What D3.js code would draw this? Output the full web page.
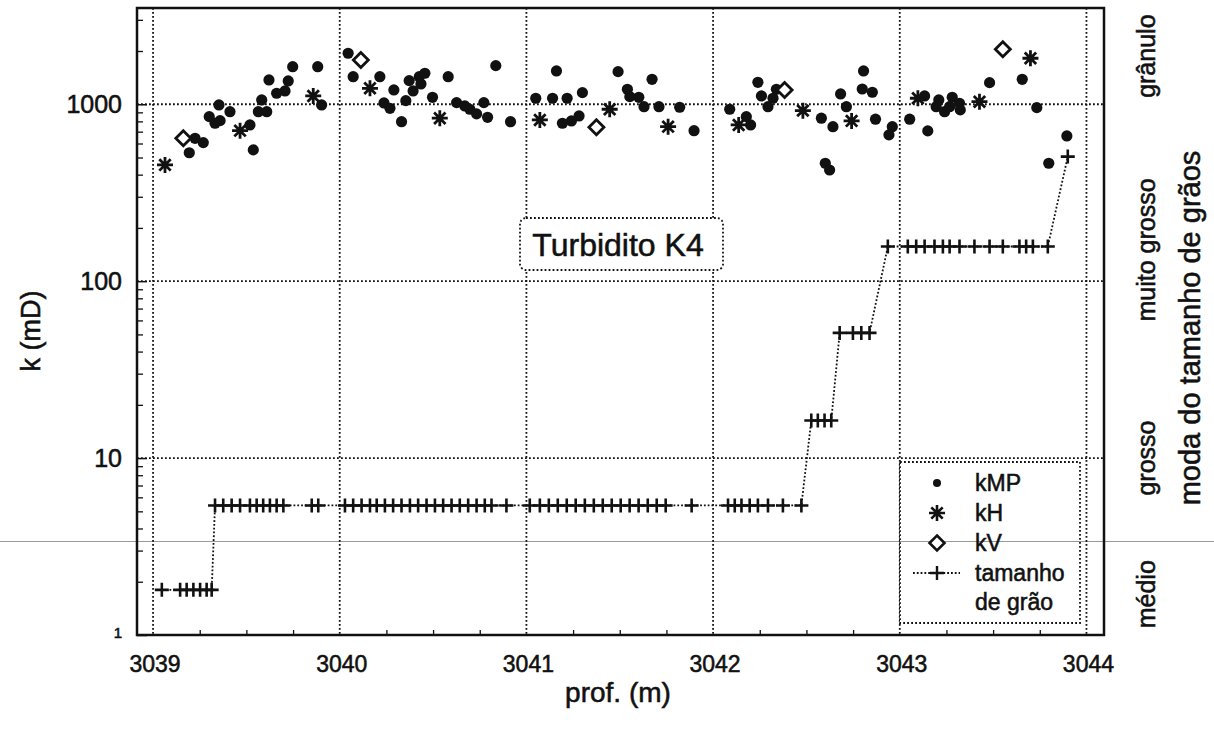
<!DOCTYPE html>
<html><head><meta charset="utf-8">
<script src="https://cdn.jsdelivr.net/npm/d3@7"></script>
<style>
body{margin:0;background:#fff}
text{font-family:"Liberation Sans",Arial,Helvetica,sans-serif;fill:#111;stroke:#111;stroke-width:0.55px}
</style>
</head><body>
<svg id="c" width="1214" height="729"></svg>
<script>
// ---------- data ----------
const kmpDepth = [3039.194,3039.225,3039.269,3039.301,3039.332,3039.353,3039.359,3039.412,3039.519,3039.537,
3039.564,3039.582,3039.609,3039.621,3039.662,3039.707,3039.724,3039.748,3039.882,3039.903,
3040.045,3040.072,3040.215,3040.237,3040.269,3040.290,3040.331,3040.354,3040.372,3040.393,
3040.426,3040.456,3040.435,3040.497,3040.581,3040.626,3040.670,3040.697,3040.733,3040.772,
3040.792,3040.836,3040.915,3041.050,3041.161,3041.140,3041.218,3041.300,3041.193,3041.241,
3041.282,3041.491,3041.541,3041.554,3041.602,3041.630,3041.673,3041.710,3041.821,3041.898,
3042.089,3042.178,3042.201,3042.240,3042.259,3042.294,3042.321,3042.339,3042.580,3042.642,
3042.601,3042.624,3042.683,3042.714,3042.806,3042.799,3042.853,3042.870,3042.960,3042.942,
3043.053,3043.150,3043.133,3043.209,3043.240,3043.267,3043.281,3043.324,3043.320,3043.195,
3043.481,3043.656,3043.734,3043.895,3043.798];
const kmpK = [532,642,607,851,781,991,808,908,764,552,
908,1058,908,1372,1154,1189,1354,1631,1631,991,
1942,1432,1432,1017,949,1205,797,1048,1360,1189,
1432,1497,1302,1095,1432,1021,978,937,882,1021,
844,1653,797,1081,1543,1081,1081,1163,781,805,
859,1529,1215,1104,1095,969,1384,969,962,709,
937,851,764,1331,1114,969,1081,1215,834,747,
464,425,1144,969,1543,1220,1169,823,747,671,
823,707,1114,1058,908,969,1095,929,1013,969,
1325,1384,957,662,464];

const khDepth = [3039.064,3039.466,3039.858,3040.162,3040.536,3041.072,3041.446,3041.759,3042.137,3042.481,3042.742,3043.097,3043.427,3043.700];
const khK     = [454,709,1114,1231,834,815,937,747,764,920,805,1081,1034,1820];

const kvDepth = [3039.162,3040.113,3041.375,3042.383,3043.552];
const kvK     = [642,1780,741,1205,2046];

const grainDepth = [3039.047,3039.145,3039.180,3039.216,3039.252,3039.287,3039.314,
3039.332,3039.376,3039.421,3039.466,3039.519,3039.555,3039.590,3039.626,3039.662,3039.698,
3039.850,3039.885,
3040.028,3040.072,3040.117,3040.162,3040.198,3040.242,3040.286,3040.331,3040.376,3040.420,
3040.465,3040.510,3040.554,3040.599,3040.643,3040.688,3040.733,3040.777,3040.813,3040.893,
3041.018,3041.072,3041.120,3041.168,3041.216,3041.264,3041.313,3041.361,3041.409,3041.457,
3041.505,3041.553,3041.601,3041.650,3041.698,3041.746,3041.885,
3042.080,3042.116,3042.152,3042.196,3042.240,3042.294,3042.374,3042.473,
3042.526,3042.561,3042.597,3042.633,
3042.678,3042.749,3042.794,3042.838,
3042.936,3043.043,3043.088,3043.133,3043.186,3043.231,3043.267,3043.320,3043.400,3043.481,
3043.552,3043.641,3043.677,3043.713,3043.793,
3043.900];
const grainSize = [1.8,1.8,1.8,1.8,1.8,1.8,1.8,
5.4,5.4,5.4,5.4,5.4,5.4,5.4,5.4,5.4,5.4,
5.4,5.4,
5.4,5.4,5.4,5.4,5.4,5.4,5.4,5.4,5.4,5.4,
5.4,5.4,5.4,5.4,5.4,5.4,5.4,5.4,5.4,5.4,
5.4,5.4,5.4,5.4,5.4,5.4,5.4,5.4,5.4,5.4,
5.4,5.4,5.4,5.4,5.4,5.4,5.4,
5.4,5.4,5.4,5.4,5.4,5.4,5.4,5.4,
16.3,16.3,16.3,16.3,
51,51,51,51,
157,157,157,157,157,157,157,157,157,157,
157,157,157,157,157,
506];

const xTicks = [3039,3040,3041,3042,3043,3044];
const xMinor = [3039.25,3039.5,3039.75,3040.25,3040.5,3040.75,3041.25,3041.5,3041.75,3042.25,3042.5,3042.75,3043.25,3043.5,3043.75];
const yTicks = [1,10,100,1000];
const yMinor = [2,3,4,5,6,7,8,9,20,30,40,50,60,70,80,90,200,300,400,500,600,700,800,900,2000,3000];
const classLabels = ["médio","grosso","muito grosso","grânulo"];
const classPos    = [1.7,10,150,1870];
const legendLabels = ["kMP","kH","kV","tamanho","de grão"];
const titleText = "Turbidito K4";

// ---------- layout ----------
const svg = d3.select("#c");
const L=137, R=1104, T=8, B=635;
const x = d3.scaleLinear().domain([3038.914,3044.094]).range([L,R]);
const y = d3.scaleLog().domain([1,3500]).range([B,T]);

const ink = "#111";
const dotted = "1.8,2.2";

// scan line artefact
svg.append("line").attr("x1",0).attr("x2",1214).attr("y1",541.5).attr("y2",541.5)
  .attr("stroke","#9a9a9a").attr("stroke-width",1);

// grid
const g = svg.append("g");
g.selectAll(".vg").data(xTicks).join("line")
  .attr("x1",d=>x(d)).attr("x2",d=>x(d)).attr("y1",T).attr("y2",B)
  .attr("stroke",ink).attr("stroke-width",1.8).attr("stroke-dasharray",dotted);
g.selectAll(".hg").data([10,100,1000]).join("line")
  .attr("x1",L).attr("x2",R).attr("y1",d=>y(d)).attr("y2",d=>y(d))
  .attr("stroke",ink).attr("stroke-width",1.8).attr("stroke-dasharray",dotted);

// axes with d3 axis generators (inner ticks)
const axB = d3.axisBottom(x).tickValues(xMinor).tickSize(-5).tickFormat("");
svg.append("g").attr("transform",`translate(0,${B})`).call(axB)
  .call(s=>s.select(".domain").remove()).selectAll("line").attr("stroke",ink).attr("stroke-width",1.3);
const axL = d3.axisLeft(y).tickValues(yMinor.filter(v=>v<3500)).tickSize(-6).tickFormat("");
svg.append("g").attr("transform",`translate(${L},0)`).call(axL)
  .call(s=>s.select(".domain").remove()).selectAll("line").attr("stroke",ink).attr("stroke-width",1.3);
const axLM = d3.axisLeft(y).tickValues(yTicks).tickSize(-10).tickFormat("");
svg.append("g").attr("transform",`translate(${L},0)`).call(axLM)
  .call(s=>s.select(".domain").remove()).selectAll("line").attr("stroke",ink).attr("stroke-width",1.5);

// frame
svg.append("rect").attr("x",L).attr("y",T).attr("width",R-L).attr("height",B-T)
  .attr("fill","none").attr("stroke",ink).attr("stroke-width",2.5);

// Turbidito box
const tb = svg.append("g");
tb.append("rect").attr("x",520).attr("y",218).attr("width",203).attr("height",52).attr("rx",6)
  .attr("fill","#fff").attr("stroke",ink).attr("stroke-width",1.8).attr("stroke-dasharray",dotted);
tb.append("text").attr("x",618).attr("y",256).attr("text-anchor","middle")
  .attr("font-size",32).text(titleText);

// grain size line + markers
const gpts = grainDepth.map((d,i)=>[x(d), y(grainSize[i])]);
svg.append("path").attr("d",d3.line()(gpts)).attr("fill","none")
  .attr("stroke",ink).attr("stroke-width",1.8).attr("stroke-dasharray","1.8,2");
const plus = "M-7,0H7M0,-7V7";
svg.append("g").selectAll("path").data(gpts).join("path")
  .attr("transform",d=>`translate(${d[0]},${d[1]})`)
  .attr("d",plus).attr("stroke",ink).attr("stroke-width",2.6).attr("fill","none");

// kMP dots
svg.append("g").selectAll("circle").data(kmpDepth).join("circle")
  .attr("cx",d=>x(d)).attr("cy",(d,i)=>y(kmpK[i])).attr("r",5.6).attr("fill",ink);

// kH asterisks
const star = "M-8,0H8M0,-8V8M-5.7,-5.7L5.7,5.7M-5.7,5.7L5.7,-5.7";
svg.append("g").selectAll("path").data(khDepth).join("path")
  .attr("transform",(d,i)=>`translate(${x(d)},${y(khK[i])})`)
  .attr("d",star).attr("stroke",ink).attr("stroke-width",2.8).attr("fill","none");

// kV diamonds
const diamond = "M0,-7.5L7.5,0L0,7.5L-7.5,0Z";
svg.append("g").selectAll("path").data(kvDepth).join("path")
  .attr("transform",(d,i)=>`translate(${x(d)},${y(kvK[i])})`)
  .attr("d",diamond).attr("stroke",ink).attr("stroke-width",2.8).attr("fill","#fff");

// legend
const lg = svg.append("g");
lg.append("rect").attr("x",900).attr("y",462).attr("width",180).attr("height",161)
  .attr("fill","#fff").attr("stroke",ink).attr("stroke-width",1.8).attr("stroke-dasharray",dotted);
lg.append("line").attr("x1",900).attr("x2",1080).attr("y1",541.5).attr("y2",541.5)
  .attr("stroke","#9a9a9a").attr("stroke-width",1);
const lx = 937, ly = [483,513,543,573,602];
lg.append("circle").attr("cx",lx).attr("cy",ly[0]).attr("r",4).attr("fill",ink);
lg.append("path").attr("transform",`translate(${lx},${ly[1]})`).attr("d",star)
  .attr("stroke",ink).attr("stroke-width",2.6).attr("fill","none");
lg.append("path").attr("transform",`translate(${lx},${ly[2]})`).attr("d",diamond)
  .attr("stroke",ink).attr("stroke-width",2.6).attr("fill","#fff");
lg.append("line").attr("x1",913).attr("x2",960).attr("y1",ly[3]).attr("y2",ly[3])
  .attr("stroke",ink).attr("stroke-width",1.8).attr("stroke-dasharray","1.8,2");
lg.append("path").attr("transform",`translate(${lx},${ly[3]})`).attr("d",plus)
  .attr("stroke",ink).attr("stroke-width",2.4);
lg.selectAll("text").data(legendLabels).join("text")
  .attr("x",975).attr("y",(d,i)=>ly[i]+8).attr("font-size",23).text(d=>d);

// tick labels
svg.append("g").selectAll("text").data(xTicks).join("text")
  .attr("x",d=>x(d)+2).attr("y",672).attr("text-anchor","middle").attr("font-size",23).text(d=>d);
svg.append("g").selectAll("text").data(yTicks).join("text")
  .attr("x",122).attr("y",d=>y(d)+ (d===1?3:9)).attr("text-anchor","end")
  .attr("font-size",d=>d===1?15:25).text(d=>d);

// axis titles
svg.append("text").attr("x",618).attr("y",702).attr("text-anchor","middle")
  .attr("font-size",28).text("prof. (m)");
svg.append("text").attr("transform","translate(40,331) rotate(-90)").attr("text-anchor","middle")
  .attr("font-size",27).text("k (mD)");
svg.append("g").selectAll("text").data(classLabels).join("text")
  .attr("transform",(d,i)=>`translate(${1155},${y(classPos[i])}) rotate(-90)`)
  .attr("text-anchor","middle").attr("font-size",25).text(d=>d);
svg.append("text").attr("transform","translate(1200,328) rotate(-90)").attr("text-anchor","middle")
  .attr("font-size",29).text("moda do tamanho de grãos");
</script>
</body></html>
